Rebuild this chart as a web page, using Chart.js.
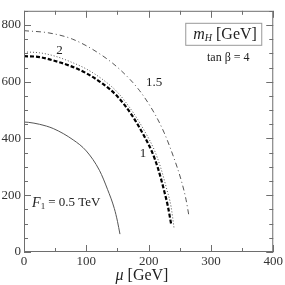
<!DOCTYPE html>
<html><head><meta charset="utf-8">
<script src="https://cdn.jsdelivr.net/npm/chart.js@4/dist/chart.umd.min.js"></script>
<style>html,body{margin:0;padding:0;background:#fff}#wrap{width:285px;height:285px}</style>
</head><body><div id="wrap"><canvas id="c" width="285" height="285"></canvas></div>
<script>
// F1 = 0.5 TeV (solid)
const muF05 = [0, 7, 25, 47, 79, 100, 121, 134, 145, 150, 154];
const mhF05 = [458, 457, 450, 435, 395, 356, 288, 221, 153, 108, 63];
// F1 = 1 (thick dashed)
const muF1 = [0, 25, 50, 75, 100, 125, 150, 175, 190, 205, 215, 225, 231, 236];
const mhF1 = [690, 687, 673, 655, 630, 595, 548, 476, 420, 355, 295, 215, 160, 100];
// F1 = 2 (dotted)
const muF2 = [0, 25, 50, 75, 100, 125, 150, 175, 193, 209, 219, 229, 236, 241];
const mhF2 = [705, 702, 690, 670, 645, 610, 563, 492, 428, 360, 300, 222, 160, 81];
// F1 = 1.5 (dash-dot)
const muF15 = [0, 40, 78, 121, 153, 185, 209, 225, 240, 252, 260, 265];
const mhF15 = [780, 772, 750, 699, 645, 570, 490, 420, 335, 255, 185, 123];
const xTicks = [0, 100, 200, 300, 400];
const yTicks = [0, 200, 400, 600, 800];

const pts = (xs, ys) => xs.map((v, i) => ({x: v, y: ys[i]}));
const SERIF = '"Liberation Serif", "DejaVu Serif", serif';

const frame = {
  id: 'frame',
  afterDraw(chart) {
    const {ctx, chartArea: a, scales: {x, y}} = chart;
    ctx.save();
    ctx.strokeStyle = '#6e6e6e';
    ctx.lineWidth = 1;
    ctx.strokeRect(a.left + 0.5, a.top + 0.5, a.right - a.left - 1, a.bottom - a.top - 1);
    ctx.beginPath();
    for (let v = x.min; v <= x.max; v += 50) {
      const p = Math.round(x.getPixelForValue(v)) + 0.5;
      const L = xTicks.includes(v) ? 7 : 4;
      ctx.moveTo(p, a.bottom); ctx.lineTo(p, a.bottom - L);
      ctx.moveTo(p, a.top); ctx.lineTo(p, a.top + L);
    }
    for (let v = y.min; v <= y.max; v += 50) {
      const p = Math.round(y.getPixelForValue(v)) + 0.5;
      const L = yTicks.includes(v) ? 7 : 4;
      ctx.moveTo(a.left, p); ctx.lineTo(a.left + L, p);
      ctx.moveTo(a.right, p); ctx.lineTo(a.right - L, p);
    }
    ctx.stroke();

    ctx.fillStyle = '#222';
    // x-axis title (mixed italic / upright)
    ctx.textBaseline = 'alphabetic';
    ctx.textAlign = 'left';
    ctx.font = 'italic 16px ' + SERIF;
    const wMu = ctx.measureText('μ ').width;
    ctx.font = '16px ' + SERIF;
    const wG = ctx.measureText('[GeV]').width;
    let tx = 142 - (wMu + wG) / 2;
    ctx.font = 'italic 16px ' + SERIF;
    ctx.fillText('μ', tx, 280);
    ctx.font = '16px ' + SERIF;
    ctx.fillText('[GeV]', tx + wMu, 280);

    // curve labels
    ctx.textBaseline = 'middle';
    ctx.textAlign = 'center';
    ctx.font = '13px ' + SERIF;
    ctx.fillText('2', x.getPixelForValue(57), y.getPixelForValue(709));
    ctx.fillText('1.5', x.getPixelForValue(209), y.getPixelForValue(598));
    ctx.fillText('1', x.getPixelForValue(191), y.getPixelForValue(348));
    // F1 label
    ctx.textAlign = 'left';
    let px = x.getPixelForValue(13), py = y.getPixelForValue(173);
    ctx.font = 'italic 14px ' + SERIF;
    ctx.fillText('F', px, py); px += ctx.measureText('F').width;
    ctx.font = '9px ' + SERIF;
    ctx.fillText('1', px, py + 4); px += ctx.measureText('1').width + 3;
    ctx.font = '13px ' + SERIF;
    ctx.fillText('= 0.5 TeV', px, py);

    // legend box
    const bx = a.right - 88, by = a.top + 12, bw = 76, bh = 22;
    ctx.strokeStyle = '#999';
    ctx.strokeRect(bx + 0.5, by + 0.5, bw, bh);
    px = bx + 8; py = by + bh / 2 + 1;
    ctx.font = 'italic 16px ' + SERIF;
    ctx.fillText('m', px, py); px += ctx.measureText('m').width;
    ctx.font = 'italic 10px ' + SERIF;
    ctx.fillText('H', px, py + 4); px += ctx.measureText('H').width + 4;
    ctx.font = '16px ' + SERIF;
    ctx.fillText('[GeV]', px, py);
    ctx.textAlign = 'center';
    ctx.font = '12px ' + SERIF;
    ctx.fillText('tan β = 4', bx + bw / 2 + 5, by + bh + 13);
    ctx.restore();
  }
};

new Chart(document.getElementById('c'), {
  type: 'scatter',
  data: {
    datasets: [
      {data: pts(muF05, mhF05), borderColor: '#555', borderWidth: 1},
      {data: pts(muF1, mhF1), borderColor: '#000', borderWidth: 2.2, borderDash: [4, 2]},
      {data: pts(muF2, mhF2), borderColor: '#555', borderWidth: 1, borderDash: [1, 2]},
      {data: pts(muF15, mhF15), borderColor: '#555', borderWidth: 1, borderDash: [5, 3, 1, 3]}
    ].map(d => Object.assign(d, {showLine: true, pointRadius: 0, cubicInterpolationMode: 'monotone', fill: false}))
  },
  options: {
    responsive: false,
    animation: false,
    devicePixelRatio: 1,
    layout: {padding: {top: 1, right: 10, left: 0, bottom: 0}},
    plugins: {legend: {display: false}, tooltip: {enabled: false}},
    scales: {
      x: {
        type: 'linear', min: 0, max: 400,
        grid: {display: false, drawTicks: false},
        border: {display: false},
        afterBuildTicks: s => { s.ticks = xTicks.map(v => ({value: v})); },
        afterFit: s => { s.height = 33; },
        ticks: {color: '#333', font: {family: SERIF, size: 13}, padding: 2, maxRotation: 0}
      },
      y: {
        type: 'linear', min: 0, max: 850,
        grid: {display: false, drawTicks: false},
        border: {display: false},
        afterBuildTicks: s => { s.ticks = yTicks.map(v => ({value: v})); },
        afterFit: s => { s.width = 24; },
        ticks: {color: '#333', font: {family: SERIF, size: 13}, padding: 3}
      }
    }
  },
  plugins: [frame]
});
</script></body></html>
